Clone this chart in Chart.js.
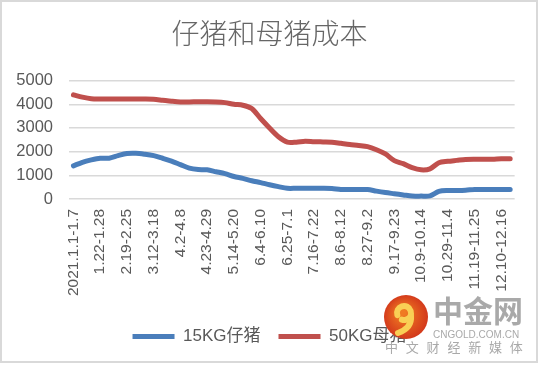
<!DOCTYPE html>
<html>
<head>
<meta charset="utf-8">
<script src="https://cdn.jsdelivr.net/npm/chart.js@4.4.0/dist/chart.umd.min.js"></script>
<style>
  html, body { margin: 0; padding: 0; background: #fff; }
  #wrap { width: 539px; height: 367px; }
</style>
</head>
<body>
<div id="wrap"><canvas id="myChart" width="539" height="367"></canvas></div>
<script>
// weekly periods, 2021
var weeks = [
  '2021.1.1-1.7', '1.8-1.14', '1.15-1.21', '1.22-1.28', '1.29-2.4', '2.5-2.11',
  '2.19-2.25', '2.26-3.4', '3.5-3.11', '3.12-3.18', '3.19-3.25', '3.26-4.1',
  '4.2-4.8', '4.9-4.15', '4.16-4.22', '4.23-4.29', '4.30-5.6', '5.7-5.13',
  '5.14-5.20', '5.21-5.27', '5.28-6.3', '6.4-6.10', '6.11-6.17', '6.18-6.24',
  '6.25-7.1', '7.2-7.8', '7.9-7.15', '7.16-7.22', '7.23-7.29', '7.30-8.5',
  '8.6-8.12', '8.13-8.19', '8.20-8.26', '8.27-9.2', '9.3-9.9', '9.10-9.16',
  '9.17-9.23', '9.24-9.30', '10.1-10.8', '10.9-10.14', '10.15-10.21', '10.22-10.28',
  '10.29-11.4', '11.5-11.11', '11.12-11.18', '11.19-11.25', '11.26-12.2', '12.3-12.9',
  '12.10-12.16', '12.17-12.23'
];
// 15KG piglet cost
var piglet = [
  1400, 1550, 1650, 1720, 1720, 1830, 1920, 1930, 1890, 1830,
  1720, 1600, 1450, 1300, 1240, 1230, 1150, 1070, 950, 870,
  770, 690, 600, 520, 450, 450, 450, 450, 450, 440,
  400, 400, 400, 400, 330, 270, 220, 170, 120, 120,
  130, 320, 360, 360, 370, 400, 400, 400, 400, 400
];
// 50KG sow cost
var sow = [
  4400, 4300, 4230, 4220, 4220, 4220, 4220, 4220, 4220, 4210,
  4170, 4130, 4100, 4100, 4110, 4110, 4100, 4070, 4000, 3960,
  3820, 3400, 3000, 2630, 2400, 2400, 2440, 2420, 2410, 2400,
  2350, 2300, 2260, 2210, 2080, 1900, 1620, 1490, 1320, 1230,
  1270, 1530, 1590, 1630, 1670, 1680, 1680, 1680, 1700, 1700
];
var yTicks = [0, 1000, 2000, 3000, 4000, 5000];

var textColor = '#595959';
var baseFont = '"Liberation Sans", Arial, "Noto Sans CJK SC", sans-serif';

var frame = {
  id: 'frame',
  beforeDraw: function(chart) {
    var c = chart.ctx;
    c.save();
    c.fillStyle = '#fff';
    c.fillRect(0, 0, chart.width, chart.height);
    c.strokeStyle = '#d9d9d9';
    c.lineWidth = 2;
    c.strokeRect(1, 1, 536, 361);
    c.restore();
  }
};

// site watermark in the lower right corner
var watermark = {
  id: 'watermark',
  afterDraw: function(chart) {
    var c = chart.ctx;
    c.save();
    var g = c.createRadialGradient(402, 312, 3, 406, 317, 23);
    g.addColorStop(0, '#f07a22');
    g.addColorStop(1, '#d2361b');
    c.fillStyle = g;
    c.beginPath();
    c.arc(406, 317, 22, 0, Math.PI * 2);
    c.fill();
    c.strokeStyle = '#f9cf55';
    c.lineWidth = 6;
    c.lineCap = 'round';
    c.beginPath();
    c.arc(404, 313, 7, Math.PI * 0.9, Math.PI * 2.6);
    c.stroke();
    c.beginPath();
    c.moveTo(411, 316);
    c.quadraticCurveTo(412, 328, 398, 333);
    c.stroke();

    c.fillStyle = 'rgba(160,160,160,0.9)';
    c.textBaseline = 'middle';
    c.textAlign = 'left';
    c.font = 'bold 30px "Noto Sans CJK SC", sans-serif';
    c.fillText('中金网', 433, 311);
    c.font = '10px "Liberation Sans", Arial, sans-serif';
    c.fillText('CNGOLD.COM.CN', 433, 335);
    c.font = '13px "Noto Sans CJK SC", sans-serif';
    var sub = '中文财经新媒体';
    for (var i = 0; i < sub.length; i++) {
      c.fillText(sub[i], 385 + i * 20.8, 347);
    }
    c.restore();
  }
};

var ctx = document.getElementById('myChart').getContext('2d');
var chart = new Chart(ctx, {
  type: 'line',
  data: {
    labels: weeks,
    datasets: [{
      label: '15KG仔猪',
      data: piglet,
      borderColor: '#4a7ebb',
      backgroundColor: '#4a7ebb',
      borderWidth: 5,
      borderCapStyle: 'round',
      borderJoinStyle: 'round',
      pointRadius: 0,
      tension: 0.3
    }, {
      label: '50KG母猪',
      data: sow,
      borderColor: '#c0504d',
      backgroundColor: '#c0504d',
      borderWidth: 5,
      borderCapStyle: 'round',
      borderJoinStyle: 'round',
      pointRadius: 0,
      tension: 0.3
    }]
  },
  options: {
    responsive: false,
    animation: false,
    layout: { padding: { left: 0, right: 0, top: 0, bottom: 12 } },
    plugins: {
      title: {
        display: true,
        text: '仔猪和母猪成本',
        color: '#666',
        font: { family: '"Noto Sans CJK SC", sans-serif', size: 28, weight: 300 },
        padding: { top: 17, bottom: 30 }
      },
      legend: {
        position: 'bottom',
        labels: {
          color: textColor,
          font: { family: baseFont, size: 17 },
          usePointStyle: true,
          pointStyle: 'line',
          pointStyleWidth: 42,
          padding: 18
        }
      },
      tooltip: { enabled: false }
    },
    scales: {
      x: {
        offset: true,
        afterFit: function(s) { s.height += 4; },
        grid: { display: false, drawTicks: false },
        border: { display: false },
        ticks: {
          autoSkip: false,
          minRotation: 90,
          maxRotation: 90,
          padding: 10,
          color: textColor,
          font: { family: baseFont, size: 15.5 },
          callback: function(v, i) { return i % 3 === 0 ? weeks[i] : ''; }
        }
      },
      y: {
        min: 0,
        max: 5000,
        afterFit: function(s) { s.width = 69; },
        afterBuildTicks: function(s) { s.ticks = yTicks.map(function(v) { return { value: v }; }); },
        grid: { color: '#d9d9d9', lineWidth: 1.5, drawTicks: false },
        border: { display: false },
        ticks: {
          padding: 16,
          color: textColor,
          font: { family: baseFont, size: 16.5 },
          callback: function(v) { return String(v); }
        }
      },
      // empty right-hand spacer so the plot ends where the reference does
      y2: {
        position: 'right',
        display: true,
        afterFit: function(s) { s.width = 23; },
        grid: { display: false, drawTicks: false },
        border: { display: false },
        ticks: { display: false }
      }
    }
  },
  plugins: [frame, watermark]
});
</script>
</body>
</html>
